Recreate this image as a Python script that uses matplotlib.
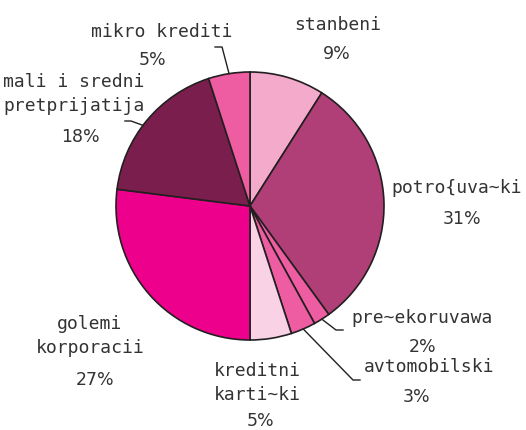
import numpy as np
import matplotlib.pyplot as plt

# Podatoci
kategorii = ['stanbeni', 'potro{uva~ki', 'pre~ekoruvawa', 'avtomobilski',
             'kreditni\nkarti~ki', 'golemi\nkorporacii', 'mali i sredni\npretprijatija',
             'mikro krediti']
procenti = [9, 31, 2, 3, 5, 27, 18, 5]
boi = ['#F4AACB', '#B03F78', '#EE5CA2', '#EE5CA2', '#F9D2E5', '#EC008C', '#7A1F4D', '#EE5CA2']

W, H = 526, 430
CX, CY, R = 250, H - 206, 134

fig = plt.figure(figsize=(W / 100, H / 100), dpi=100)
ax = fig.add_axes([0, 0, 1, 1])

wedges, _ = ax.pie(procenti, colors=boi, startangle=90, counterclock=False,
                   center=(CX, CY), radius=R, frame=True,
                   wedgeprops=dict(edgecolor='#231F20', linewidth=1.2))
ax.set_xlim(0, W)
ax.set_ylim(0, H)
ax.set_aspect('equal')
ax.axis('off')

# pozicii na tekstot (pikseli, y od gore)
lab_pos = [(338, 25), (457, 188), (422, 318), (429, 367),
           (257, 383), (90, 336), (74, 94), (162, 32)]
pct_pos = [(337, 54), (462, 219), (423, 347), (417, 397),
           (261, 421), (95, 380), (80, 137), (152, 60)]

txt = dict(fontsize=13, color='#333333', ha='center', va='center',
           family='DejaVu Sans Mono', linespacing=1.45)
ptxt = dict(txt, family='DejaVu Sans', fontsize=12.5)
for k, p, lp, pp in zip(kategorii, procenti, lab_pos, pct_pos):
    ax.text(lp[0], H - lp[1], k, **txt)
    ax.text(pp[0], H - pp[1], f'{p}%', **ptxt)


def rab(w):
    a = np.deg2rad((w.theta1 + w.theta2) / 2)
    return CX + R * np.cos(a), CY + R * np.sin(a)


lc = dict(color='#231F20', lw=1)
# mikro krediti
x0, y0 = rab(wedges[7])
ax.plot([x0, x0 - 7, x0 - 14], [y0, H - 47, H - 47], **lc)
# mali i sredni
x0, y0 = CX + R * np.cos(np.deg2rad(143)), CY + R * np.sin(np.deg2rad(143))
ax.plot([x0, x0 - 12, x0 - 18], [y0, H - 121, H - 121], **lc)
# pre~ekoruvawa
x0, y0 = rab(wedges[2])
ax.plot([x0, 336, 343], [y0, H - 330, H - 330], **lc)
# avtomobilski
x0, y0 = rab(wedges[3])
ax.plot([x0, 353, 360], [y0, H - 380, H - 380], **lc)

fig.savefig('out.png', dpi=100)
